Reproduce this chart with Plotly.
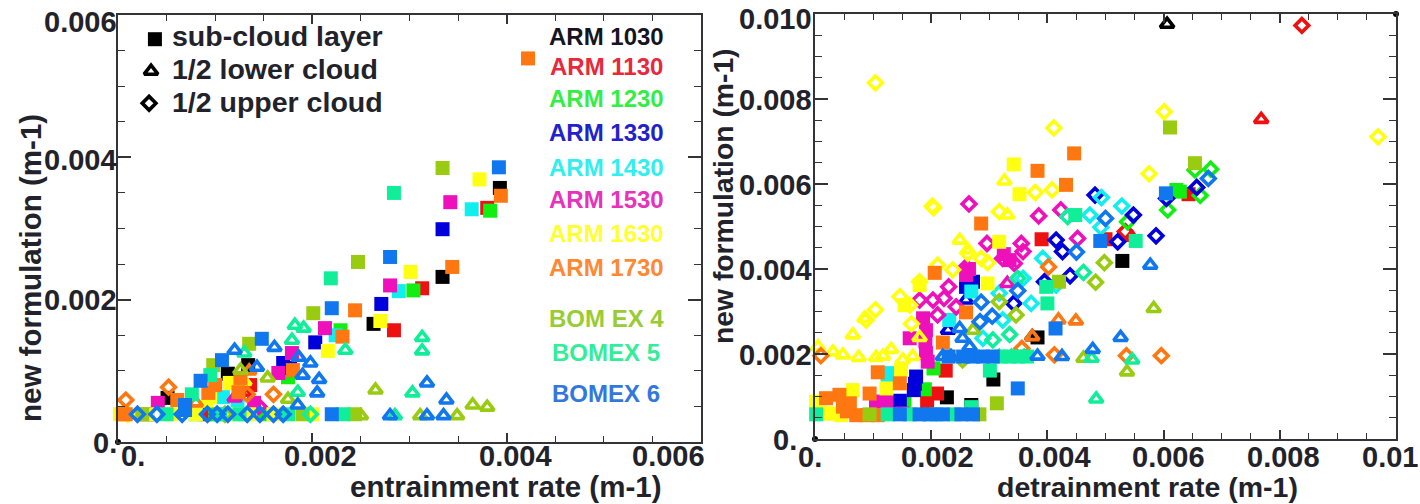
import plotly.graph_objects as go

W, H = 1420, 504
SERIES = ["ARM 1030", "ARM 1130", "ARM 1230", "ARM 1330", "ARM 1430", "ARM 1530",
          "ARM 1630", "ARM 1730", "BOM EX 4", "BOMEX 5", "BOMEX 6"]
COLORS = ["#000000", "#ee1111", "#11ee11", "#0000dd", "#11eeee", "#ee11bb",
          "#ffff11", "#ff7711", "#99cc11", "#11ee99", "#1177ee"]
TEXT_COLORS = ["#15151f", "#e8283c", "#33ee44", "#2222cc", "#33eeee", "#e633bb",
               "#ffff33", "#ff8833", "#99cc33", "#33ee99", "#3377dd"]

# All pairs are (rate, new formulation) in units of 0.001 m-1
L_SUB_1030 = [(3.93,3.57),(3.34,2.32),(2.63,1.66),(.51,.62),(1.13,.96),(1.34,1.08),(.3,.39)]
L_SUB_1130 = [(3.8,3.29),(3.13,2.16),(2.84,1.57),(1.36,.8),(1.25,.75),(.9,.39)]
L_SUB_1230 = [(3.83,3.25),(3.04,2.13),(2.29,1.57),(1.75,.91),(1.0,.39),(1.5,.39)]
L_SUB_1330 = [(3.34,2.99),(2.71,1.94),(2.03,1.4),(1.7,1.11),(1.77,1.04),(.69,.52)]
L_SUB_1430 = [(3.64,3.27),(2.89,2.12),(2.24,1.5),(1.08,.63),(1.23,.55),(.8,.39),(1.3,.39)]
L_SUB_1530 = [(3.42,3.37),(2.8,2.2),(2.13,1.6),(1.65,.97),(1.79,1.25),(.41,.55),(1.4,.55)]
L_SUB_1630 = [(3.72,3.69),(3.01,2.39),(2.7,1.7),(2.16,1.28),(1.15,.83),(.95,.63),(.02,.39),(.3,.39),(.55,.39),(.8,.39),(1.05,.39),(1.2,.39),(1.35,.39),(1.6,.39),(1.85,.39),(2.0,.39)]
L_SUB_1730 = [(4.22,5.39),(3.94,3.46),(3.44,2.46),(2.44,1.85),(2.31,1.48),(1.0,.8),(.93,.69),(.61,.59),(1.26,.9),(1.24,.7),(1.8,1.01),(.08,.39),(.05,.39)]
L_SUB_BOM4 = [(3.34,3.85),(2.47,2.53),(2.01,1.81),(1.35,1.38),(.98,1.08),(2.44,.39),(1.9,.39),(.25,.39)]
L_SUB_BOM5 = [(2.84,3.5),(2.19,2.3),(.95,.94),(.76,.67),(.5,.39),(1.25,.39),(1.75,.39),(2.32,.39),(1.05,.39)]
L_SUB_BOM6 = [(3.92,3.86),(2.8,2.6),(2.2,1.88),(1.48,1.45),(1.07,1.15),(.85,.86),(2.2,.39),(.69,.45),(.69,.52)]
L_SUB = [L_SUB_1030, L_SUB_1130, L_SUB_1230, L_SUB_1330, L_SUB_1430, L_SUB_1530, L_SUB_1630, L_SUB_1730, L_SUB_BOM4, L_SUB_BOM5, L_SUB_BOM6]

L_LOW_1130 = [(1.3,.7)]
L_LOW_1530 = [(1.2,.62)]
L_LOW_1630 = [(.9,.55),(1.3,.85)]
L_LOW_1730 = [(.8,.55),(1.35,1.0)]
L_LOW_BOM4 = [(1.26,1.01),(1.54,.9),(2.65,.73),(3.65,.52),(3.8,.49),(3.11,.37),(3.49,.37),(2.5,.37),(1.75,.6)]
L_LOW_BOM5 = [(1.82,1.64),(1.91,1.6),(1.79,1.43),(2.34,1.29),(3.13,1.47),(3.13,1.28),(3.03,.69),(2.85,.37),(1.3,1.25),(1.85,.7)]
L_LOW_BOM6 = [(1.2,1.29),(1.61,1.33),(1.43,1.05),(1.86,1.19),(1.98,1.11),(1.9,.94),(2.07,.88),(2.05,.69),(1.85,.52),(3.18,.83),(3.38,.59),(2.8,.37),(3.18,.37),(3.35,.37)]
L_LOW = [[], L_LOW_1130, [], [], [], L_LOW_1530, L_LOW_1630, L_LOW_1730, L_LOW_BOM4, L_LOW_BOM5, L_LOW_BOM6]

L_UP_1530 = [(1.45,.5)]
L_UP_1630 = [(.1,.39)]
L_UP_1730 = [(.08,.59),(.52,.77),(1.33,.67),(1.6,.67)]
L_UP_BOM4 = [(1.1,.39)]
L_UP_BOM5 = [(1.98,.39)]
L_UP_BOM6 = [(.2,.39),(.4,.39),(.66,.39),(.92,.39),(1.02,.39),(1.13,.39),(1.33,.39),(1.46,.39),(1.6,.39),(1.7,.39)]
L_UP = [[], [], [], [], [], L_UP_1530, L_UP_1630, L_UP_1730, L_UP_BOM4, L_UP_BOM5, L_UP_BOM6]

R_SUB_1030 = [(5.29,4.19),(3.07,1.4),(2.27,.98),(3.83,2.39),(2.69,.8)]
R_SUB_1130 = [(6.43,5.76),(2.25,1.61),(2.1,1.07),(1.93,.88),(5.0,4.7),(3.9,4.7)]
R_SUB_1230 = [(6.28,5.82),(6.22,5.86),(2.04,1.66),(1.89,1.17),(1.54,.84)]
R_SUB_1330 = [(1.74,1.47),(1.7,1.15),(1.46,.9),(2.6,3.58),(2.72,3.7),(1.72,1.3)]
R_SUB_1430 = [(1.25,1.55),(2.31,2.8),(2.69,3.47),(1.25,1.35)]
R_SUB_1530 = [(1.86,2.84),(1.91,2.56),(1.91,2.02),(1.63,2.37),(1.94,1.82),(2.6,3.86),(3.35,4.21),(1.05,.88),(1.23,.88),(2.65,4.0),(3.25,4.35),(1.9,2.3),(1.5,.6)]
R_SUB_1630 = [(3.42,6.46),(3.52,5.76),(3.17,4.64),(1.8,3.62),(1.54,3.15),(2.97,3.66),(1.23,1.19),(1.48,1.62),(.19,.6),(.45,.56),(.65,1.15),(.02,.88),(.1,.62),(.3,.6),(.5,.95)]
R_SUB_1730 = [(3.83,6.31),(4.46,6.72),(4.32,5.98),(2.86,5.07),(2.06,3.91),(2.6,2.98),(2.2,2.27),(1.08,1.57),(1.46,1.31),(.94,1.07),(.19,.96),(.42,1.04),(.6,.84),(.71,.56),(1.08,.56),(.48,.76),(.55,.65),(.9,.56)]
R_SUB_BOM4 = [(6.11,7.33),(6.54,6.49),(3.13,.84),(.94,.58),(2.83,.58),(4.2,3.7)]
R_SUB_BOM5 = [(4.48,5.27),(5.52,4.66),(3.01,1.61),(.02,.58),(1.25,.58),(1.63,.58),(2.09,.58),(2.4,.58),(4.0,3.19),(3.98,3.58),(2.69,.75),(3.2,1.94),(3.35,1.94),(3.5,1.94),(3.65,1.94)]
R_SUB_BOM6 = [(6.04,5.78),(4.91,4.66),(3.49,1.19),(4.14,2.6),(1.46,.58),(1.8,.58),(1.97,.58),(2.2,.58),(2.52,.58),(2.72,.58),(2.55,1.94),(2.72,1.94),(2.89,1.94),(3.06,1.94),(2.3,1.94)]
R_SUB = [R_SUB_1030, R_SUB_1130, R_SUB_1230, R_SUB_1330, R_SUB_1430, R_SUB_1530, R_SUB_1630, R_SUB_1730, R_SUB_BOM4, R_SUB_BOM5, R_SUB_BOM6]

R_LOW_1030 = [(6.06,9.76),(3.74,2.41)]
R_LOW_1130 = [(7.68,7.52),(5.45,4.75)]
R_LOW_1330 = [(2.29,2.56),(2.6,3.27)]
R_LOW_1530 = [(3.31,3.66)]
R_LOW_1630 = [(3.26,6.07),(3.31,5.27),(2.49,4.68),(2.63,4.45),(.05,2.17),(.31,2.05),(.48,1.98),(.75,1.92),(1.05,1.92),(1.17,1.95),(1.31,2.11),(1.51,1.86),(1.68,1.94),(.65,2.45),(.85,2.84),(1.8,2.39)]
R_LOW_1730 = [(3.74,2.41),(4.49,2.78),(4.19,2.8)]
R_LOW_BOM4 = [(5.83,3.07),(4.62,1.9),(5.37,1.58),(2.72,2.56)]
R_LOW_BOM5 = [(4.76,1.9),(5.46,1.86),(4.84,.94),(3.17,1.94),(3.38,1.94),(3.6,1.94)]
R_LOW_BOM6 = [(5.77,4.09),(5.26,2.39),(4.78,2.11),(3.83,1.95),(4.25,1.94),(2.49,2.6),(2.54,2.37),(2.66,2.17),(2.2,1.94),(2.34,1.94)]
R_LOW = [R_LOW_1030, R_LOW_1130, [], R_LOW_1330, [], R_LOW_1530, R_LOW_1630, R_LOW_1730, R_LOW_BOM4, R_LOW_BOM5, R_LOW_BOM6]

R_UP_1130 = [(8.38,9.73),(5.34,4.88)]
R_UP_1230 = [(6.54,6.33),(6.81,6.35),(6.63,5.73),(6.07,5.39),(5.38,5.11)]
R_UP_1330 = [(6.57,5.92),(6.05,5.66),(4.82,5.74),(5.48,5.27),(5.87,4.78),(5.21,4.64),(4.15,4.68),(3.42,3.19),(3.95,3.7),(4.26,4.41),(4.39,3.84)]
R_UP_1430 = [(4.93,5.68),(5.28,5.48),(4.73,5.27),(4.92,4.98),(3.92,4.25),(3.58,3.78),(3.17,3.43),(3.23,2.8),(3.72,3.19),(4.15,3.62),(2.89,2.37)]
R_UP_1530 = [(2.65,5.53),(3.85,5.25),(4.23,5.39),(2.96,4.6),(3.55,4.6),(4.52,4.72),(1.8,3.27),(2.03,3.27),(2.22,3.31),(2.3,3.58),(2.11,2.92),(2.43,3.11),(2.6,4.05),(3.58,4.41),(3.23,4.25),(3.43,4.13)]
R_UP_1630 = [(1.04,8.38),(4.11,7.32),(3.79,5.8),(4.08,5.86),(2.02,5.48),(2.04,5.44),(3.17,5.35),(6.01,7.7),(9.69,7.11),(5.75,6.24),(1.04,3.04),(.88,2.8),(1.46,3.35),(1.63,3.15),(1.66,2.71),(1.8,3.7),(2.11,4.09),(2.37,3.98),(2.63,4.37),(2.97,4.15),(2.86,4.25)]
R_UP_1730 = [(.1,1.96),(5.36,1.96),(5.96,1.96),(4.02,4.05),(3.56,2.13),(4.12,1.98)]
R_UP_BOM4 = [(4.98,4.15),(4.83,3.69),(3.17,3.23),(3.46,2.92),(2.54,1.86)]
R_UP_BOM5 = [(4.62,3.92),(3.35,2.46),(3.49,3.78),(3.06,2.33),(4.35,5.23)]
R_UP_BOM6 = [(6.77,6.13),(5.0,5.19),(2.86,3.22),(3.05,2.89),(2.84,2.76),(3.49,3.49),(4.5,4.4)]
R_UP = [[], R_UP_1130, R_UP_1230, R_UP_1330, R_UP_1430, R_UP_1530, R_UP_1630, R_UP_1730, R_UP_BOM4, R_UP_BOM5, R_UP_BOM6]

KEY_LABELS = ["sub-cloud layer", "1/2 lower cloud", "1/2 upper cloud"]
KEY_POINTS = [(.38,5.66),(.34,5.21),(.32,4.76)]
CORNER_L = [(0,0)]
CORNER_R = [(0,0),(10,10)]

FONT = "Liberation Sans"
INK = "#22222a"
SYMBOLS = ["square", "triangle-up-open", "diamond-open"]
SIZES = [14, 12, 10.5]

fig = go.Figure()

def add(points, xa, ya, sym_i, color, name):
    if not points:
        return
    fig.add_trace(go.Scatter(
        x=[p[0] / 1000 for p in points], y=[p[1] / 1000 for p in points],
        xaxis=xa, yaxis=ya, mode="markers", name=name, showlegend=False, cliponaxis=False,
        marker=dict(symbol=SYMBOLS[sym_i], size=SIZES[sym_i], color=color,
                    line=dict(color=color, width=3.6 if sym_i else 0))))

for groups, xa, ya in (((L_SUB, L_LOW, L_UP), "x", "y"), ((R_SUB, R_LOW, R_UP), "x2", "y2")):
    for i, name in enumerate(SERIES):
        for k in range(3):
            add(groups[k][i], xa, ya, k, COLORS[i], name)

for k, p in enumerate(KEY_POINTS):
    add([p], "x", "y", k, "#000000", KEY_LABELS[k])

for pts, xa, ya in ((CORNER_L, "x", "y"), (CORNER_R, "x2", "y2")):
    fig.add_trace(go.Scatter(x=[p[0] / 1000 for p in pts], y=[p[1] / 1000 for p in pts],
                             xaxis=xa, yaxis=ya, mode="markers", showlegend=False, cliponaxis=False,
                             marker=dict(symbol="circle", size=6, color="#000000")))

def axis(domain, rng, dtick, ln, mn, anchor):
    return dict(domain=domain, range=rng, anchor=anchor, showgrid=False, zeroline=False,
                showline=True, linecolor="#333338", linewidth=1.6, mirror="allticks",
                ticks="inside", tickmode="linear", tick0=0, dtick=dtick, ticklen=ln, tickwidth=1.5,
                tickcolor="#333338", showticklabels=False,
                minor=dict(ticks="inside", dtick=0.0005, tick0=0, ticklen=mn, tickwidth=1.3, tickcolor="#333338"))

def xd(a, b):
    return [a / W, b / W]

def yd(top, bot):
    return [1 - bot / H, 1 - top / H]

fig.update_layout(
    width=W, height=H, margin=dict(l=0, r=0, t=0, b=0), autosize=False,
    paper_bgcolor="white", plot_bgcolor="rgba(0,0,0,0)", showlegend=False,
    xaxis=axis(xd(118, 701), [0, 0.006], 0.002, 9, 6, "y"),
    yaxis=axis(yd(15, 442), [0, 0.006], 0.002, 13, 7, "x"),
    xaxis2=axis(xd(815, 1396), [0, 0.01], 0.002, 9, 6, "y2"),
    yaxis2=axis(yd(14, 439), [0, 0.01], 0.002, 13, 7, "x2"),
)

def text(s, px, py, size, color=INK, anchor="center", angle=0, bold=True):
    fig.add_annotation(text=f"<b>{s}</b>" if bold else s, x=px / W, y=1 - py / H, xref="paper", yref="paper",
                       showarrow=False, xanchor=anchor, yanchor="middle", textangle=angle,
                       font=dict(family=FONT, size=size, color=color), borderpad=0, borderwidth=0)

TICK_SIZE = 29
for s, px, py in (("0.006", 117, 22), ("0.004", 117, 160), ("0.002", 117, 300), ("0.", 117, 443)):
    text(s, px, py, TICK_SIZE, anchor="right")
for s, px in (("0.", 133), ("0.002", 320), ("0.004", 515), ("0.006", 668)):
    text(s, px, 456, TICK_SIZE)
for s, py in (("0.010", 19), ("0.008", 100), ("0.006", 185), ("0.004", 270), ("0.002", 355)):
    text(s, 812, py, TICK_SIZE, anchor="right")
text("0.", 797, 440, TICK_SIZE, anchor="right")
for s, px in (("0.", 810), ("0.002", 937), ("0.004", 1054), ("0.006", 1168), ("0.008", 1283), ("0.01", 1390)):
    text(s, px, 457, TICK_SIZE)

text("entrainment rate (m-1)", 505, 486.5, 29.5)
text("detrainment rate (m-1)", 1147, 487, 28.5)
text("new formulation (m-1)", 30, 268, 29.5, angle=-90)
text("new formulation (m-1)", 723, 196, 28.3, angle=-90)

for s, py in zip(KEY_LABELS, (36, 69, 102)):
    text(s, 172, py, 28.5, anchor="left")

LABEL_Y = [37, 67, 99, 133, 168, 200, 233, 267, 318, 352, 393]
for s, c, py in zip(SERIES, TEXT_COLORS, LABEL_Y):
    text(s, 606, py, 24, color=c)

fig.write_html("out.html", config=dict(displayModeBar=False),
               post_script="document.body.style.margin='0';document.body.style.overflow='hidden';")
